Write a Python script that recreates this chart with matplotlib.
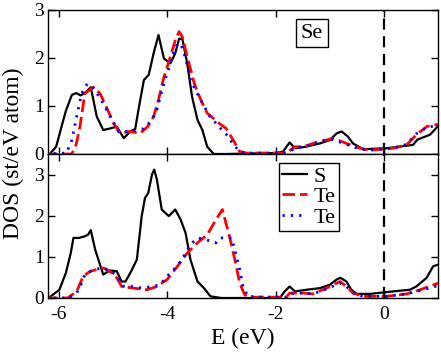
import numpy as np
import matplotlib.pyplot as plt

plt.rcParams['font.family'] = ['Liberation Serif', 'DejaVu Serif']
plt.rcParams['axes.unicode_minus'] = False

# ---- top panel (Se) ----
s_top_x = [-6.25, -6.17, -6.05, -5.95, -5.87, -5.76, -5.68, -5.60, -5.52, -5.41, -5.30, -5.18, -5.06,
           -4.93, -4.80, -4.68, -4.59, -4.53, -4.43, -4.34, -4.25, -4.16, -4.06, -3.94, -3.85, -3.78,
           -3.72, -3.63, -3.54, -3.44, -3.35, -3.26, -3.14, -2.9, -2.5, -2.0, -1.86, -1.74, -1.64,
           -1.45, -1.18, -1.0, -0.87, -0.78, -0.66, -0.57, -0.38, 0.05, 0.54, 0.62, 0.85, 1.0]
s_top_y = [0.0, 0.0, 0.15, 0.57, 0.9, 1.23, 1.27, 1.22, 1.27, 1.39, 0.78, 0.5, 0.53,
           0.57, 0.33, 0.47, 0.52, 0.92, 1.54, 1.65, 2.1, 2.48, 1.99, 1.89, 2.1, 2.4,
           2.4, 1.89, 1.19, 0.71, 0.5, 0.15, 0.0, 0.0, 0.01, 0.02, 0.05, 0.24, 0.12,
           0.15, 0.22, 0.29, 0.43, 0.47, 0.36, 0.22, 0.1, 0.12, 0.19, 0.3, 0.4, 0.58]

te1_top_x = [-6.25, -5.76, -5.68, -5.61, -5.52, -5.36, -5.24, -5.11, -4.99, -4.87, -4.68, -4.50,
             -4.36, -4.25, -4.16, -4.06, -3.94, -3.85, -3.78, -3.72, -3.63, -3.50, -3.38, -3.26,
             -3.04, -2.91, -2.78, -2.66, -2.54, -2.2, -1.80, -1.64, -1.48, -1.31, -1.06, -0.94,
             -0.69, -0.44, -0.26, 0.17, 0.42, 0.60, 0.79, 1.0]
te1_top_y = [0.0, 0.0, 0.2, 0.57, 1.26, 1.39, 1.26, 0.95, 0.64, 0.43, 0.47, 0.43,
             0.57, 0.78, 1.13, 1.6, 2.03, 2.37, 2.55, 2.44, 2.03, 1.47, 1.13, 0.85,
             0.64, 0.53, 0.29, 0.05, 0.02, 0.02, 0.02, 0.15, 0.15, 0.22, 0.29, 0.33,
             0.22, 0.12, 0.08, 0.12, 0.19, 0.4, 0.57, 0.62]

te2_top_x = [-6.25, -5.86, -5.76, -5.67, -5.58, -5.49, -5.40, -5.22, -5.05, -4.90, -4.68, -4.43,
             -4.28, -4.19, -4.06, -3.94, -3.85, -3.75, -3.66, -3.57, -3.41, -3.23, -3.03, -2.9,
             -2.78, -2.66, -2.54, -2.2, -1.80, -1.64, -1.31, -1.06, -0.94, -0.69, -0.44, -0.26,
             0.17, 0.42, 0.60, 0.79, 1.0]
te2_top_y = [0.0, 0.02, 0.29, 0.78, 1.26, 1.44, 1.44, 1.13, 0.78, 0.47, 0.47, 0.53,
             0.71, 0.92, 1.47, 1.89, 2.24, 2.3, 2.0, 1.54, 1.19, 0.81, 0.55, 0.4,
             0.2, 0.05, 0.02, 0.02, 0.02, 0.12, 0.2, 0.3, 0.3, 0.2, 0.1, 0.08,
             0.12, 0.2, 0.42, 0.55, 0.6]

# ---- bottom panel (Te) ----
s_bot_x = [-6.25, -6.17, -5.99, -5.87, -5.78, -5.73, -5.63, -5.52, -5.46, -5.41, -5.33, -5.24,
           -5.18, -5.06, -4.93, -4.84, -4.77, -4.68, -4.56, -4.47, -4.41, -4.35, -4.28, -4.24,
           -4.19, -4.10, -3.97, -3.85, -3.75, -3.66, -3.57, -3.44, -3.32, -3.20, -3.0, -2.5,
           -1.92, -1.83, -1.74, -1.64, -1.43, -1.18, -1.0, -0.87, -0.80, -0.69, -0.60, -0.50,
           -0.26, 0.17, 0.48, 0.60, 0.79, 0.91, 1.0]
s_bot_y = [0.0, 0.02, 0.2, 0.61, 1.09, 1.46, 1.46, 1.5, 1.54, 1.65, 1.18, 0.81,
           0.57, 0.67, 0.65, 0.4, 0.4, 0.61, 0.93, 1.99, 2.43, 2.55, 3.0, 3.12,
           2.88, 2.15, 1.99, 2.15, 1.9, 1.58, 0.93, 0.4, 0.24, 0.04, 0.0, 0.0,
           0.0, 0.16, 0.28, 0.16, 0.2, 0.24, 0.32, 0.45, 0.49, 0.4, 0.2, 0.1,
           0.1, 0.16, 0.2, 0.28, 0.49, 0.77, 0.81]

te1_bot_x = [-6.25, -5.84, -5.67, -5.55, -5.42, -5.30, -5.18, -5.06, -4.93, -4.84, -4.62, -4.37,
             -4.19, -4.00, -3.81, -3.63, -3.44, -3.26, -3.10, -2.98, -2.85, -2.75, -2.66, -2.57,
             -2.48, -2.2, -1.80, -1.74, -1.50, -1.31, -1.06, -0.81, -0.69, -0.57, -0.38, 0.05,
             0.42, 0.67, 1.0]
te1_bot_y = [0.0, 0.0, 0.16, 0.53, 0.65, 0.69, 0.73, 0.65, 0.49, 0.28, 0.24, 0.2,
             0.28, 0.45, 0.77, 1.09, 1.34, 1.54, 1.9, 2.15, 1.5, 0.93, 0.36, 0.08,
             0.02, 0.02, 0.02, 0.12, 0.12, 0.1, 0.24, 0.4, 0.28, 0.12, 0.04, 0.04,
             0.1, 0.2, 0.36]

te2_bot_x = [-6.25, -5.82, -5.67, -5.58, -5.52, -5.36, -5.18, -5.03, -4.93, -4.80, -4.62, -4.47,
             -4.28, -4.13, -4.00, -3.88, -3.75, -3.66, -3.57, -3.44, -3.29, -3.10, -3.03, -2.81,
             -2.72, -2.66, -2.60, -2.51, -2.2, -1.80, -1.74, -1.50, -1.31, -1.06, -0.81, -0.69,
             -0.57, -0.38, 0.05, 0.42, 0.67, 1.0]
te2_bot_y = [0.0, 0.0, 0.12, 0.36, 0.57, 0.69, 0.73, 0.65, 0.53, 0.28, 0.28, 0.24,
             0.28, 0.32, 0.53, 0.69, 0.89, 1.09, 1.3, 1.46, 1.42, 1.34, 1.46, 1.46,
             1.01, 0.69, 0.28, 0.04, 0.02, 0.02, 0.1, 0.12, 0.1, 0.22, 0.36, 0.28,
             0.12, 0.04, 0.04, 0.1, 0.18, 0.3]

xticks = [-6, -4, -2, 0]
yticks = [0, 1, 2, 3]

fig = plt.figure(figsize=(4.41, 3.52), dpi=100)
ax1 = fig.add_axes([48 / 441, 1 - 154 / 352, 390 / 441, 144 / 352])
ax2 = fig.add_axes([48 / 441, 1 - 298 / 352, 390 / 441, 144 / 352])

dash_red = (0, (4.5, 1.8))
dot_blue = (0, (0.8, 2.2))

for ax, sx, sy, t1x, t1y, t2x, t2y in [
        (ax1, s_top_x, s_top_y, te1_top_x, te1_top_y, te2_top_x, te2_top_y),
        (ax2, s_bot_x, s_bot_y, te1_bot_x, te1_bot_y, te2_bot_x, te2_bot_y)]:
    ax.plot(sx, sy, color='black', lw=1.6, label='S')
    ax.plot(t1x, t1y, color='red', lw=2.0, linestyle=dash_red, label='Te')
    ax.plot(t2x, t2y, color='blue', lw=2.0, linestyle=dot_blue, label='Te')
    ax.axvline(0, color='black', lw=1.6, linestyle=(0, (5, 3)))
    ax.set_xlim(-6.2, 1.0)
    ax.set_xticks(xticks)
    ax.set_yticks(yticks)
    ax.tick_params(direction='in', length=5, width=1, top=True, right=True, labelsize=14,
                   pad=3)
    ax.tick_params(axis='x', pad=6)
    for sp in ax.spines.values():
        sp.set_linewidth(1.0)

ax1.set_ylim(0, 3)
ax1.set_xticklabels([])
ax2.set_ylim(0, 3.5)

ax1.text(0.677, 0.84, 'Se', transform=ax1.transAxes, ha='center', va='center', fontsize=16,
         bbox=dict(boxstyle='square,pad=0.2', fc='white', ec='black', lw=1.0))

ax2.legend(loc='upper left', bbox_to_anchor=(0.592, 0.94), fontsize=16, handlelength=1.1,
           handletextpad=0.3, labelspacing=0.0, borderpad=0.15, borderaxespad=0,
           fancybox=False, edgecolor='black', framealpha=1)

ax2.set_xlabel('E (eV)', fontsize=17, labelpad=3)
fig.text(0.03, 1 - 153 / 352, 'DOS (st/eV atom)', rotation=90, ha='center', va='center',
         fontsize=17)

fig.savefig('out.png', dpi=100)
